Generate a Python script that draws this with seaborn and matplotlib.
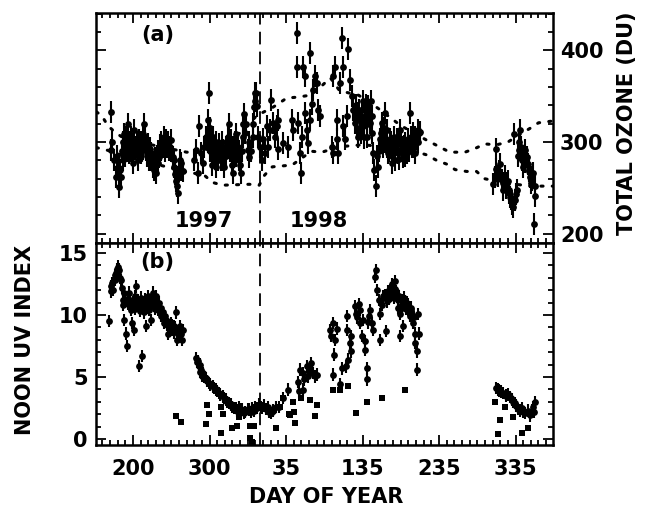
import pandas as pd
import seaborn as sns
import matplotlib.pyplot as plt
from matplotlib.ticker import MultipleLocator

# day axis runs on from 1997 into 1998: 1998 day n is plotted at 365 + n
year_break = 365.5

# --- (a) total ozone, (day, DU) ---
ozone_1997_summer = [
    (171, 333), (171, 291), (173, 300), (175.6, 280), (177.7, 262), (179, 285), (180, 273),
    (182, 251), (183, 270), (184.3, 262), (185, 290), (186.5, 280), (187, 300), (188.6, 309),
    (189, 285), (190.8, 295), (191, 305), (192, 290), (193, 320), (194, 300), (195, 288),
    (196, 300), (197.3, 306), (198, 290), (199.5, 277), (200, 298), (201.7, 313), (202, 293),
    (203.9, 295), (205, 300), (206, 280), (207, 290), (208.2, 302), (209, 295), (210.4, 288),
    (211, 300), (212.6, 309), (213, 293), (214.8, 320), (216, 305), (217, 291), (218, 285),
    (219, 298), (220, 290), (221.3, 280), (222, 293), (223.5, 288), (224, 280), (225.7, 273),
    (227, 270), (228, 278), (229, 283), (230, 266), (231, 285), (232, 277), (233, 290),
    (234.4, 284), (235, 297), (236.6, 291), (237, 300), (238.7, 295), (240, 305), (241, 298),
    (242, 290), (243, 302), (244, 295), (245, 300), (246, 300), (247.5, 291), (248, 295),
    (249.6, 302), (250, 290), (251.8, 284), (253, 280), (254, 273), (255, 265), (256, 258),
    (257, 252), (258.3, 244), (259, 262), (260.5, 269), (261, 280), (262.7, 277), (263, 270),
    (264.9, 269),
]
ozone_1997_autumn = [
    (280, 280), (282.3, 291), (284.5, 266), (286.7, 317), (288.9, 288), (291, 277),
    (293.2, 295), (295.4, 306), (297.6, 324), (298, 300), (299.7, 353), (300, 315), (301, 290),
    (302, 302), (303, 275), (304.1, 284), (305, 305), (306.3, 295), (307, 285), (308.5, 273),
    (309, 300), (310.6, 288), (311, 280), (312.8, 298), (314, 290), (315, 280), (316, 300),
    (317.2, 291), (318, 280), (319.3, 273), (320, 285), (321.5, 295), (322, 285), (323.7, 306),
    (324, 295), (325.9, 320), (327, 290), (328, 302), (329, 275), (330.2, 266), (331, 295),
    (332.4, 288), (333, 300), (334.6, 309), (335, 285), (336.8, 295), (338, 290), (339, 280),
    (340, 275), (341.1, 266), (342, 290), (343.3, 306), (344, 320), (345.5, 331), (346, 310),
    (347.7, 320), (349.8, 291), (351, 300), (352, 284), (354, 290), (356.4, 306), (357, 320),
    (358.6, 338), (359, 345), (359.5, 353), (360.7, 353), (361.7, 339), (364, 306),
]
ozone_1998_spring = [
    (366, 295), (368, 281), (370.4, 303), (372.6, 288), (374.7, 317), (377, 295),
    (379, 313), (381, 346), (383, 321), (385.6, 306), (387.8, 317), (390, 324), (390, 292),
    (396.5, 299), (403, 295), (407.4, 324), (409.6, 313), (414, 419), (414, 382), (416, 321),
    (418.3, 288), (419.6, 266), (420.5, 306), (422.7, 382), (424.9, 372), (424.9, 332),
    (427, 313), (429, 299), (431.4, 397), (431.4, 324), (433.6, 342), (435.7, 357),
    (438, 372), (440, 364), (442.3, 335), (444.5, 328), (459.7, 295), (461.9, 288),
    (461.9, 372), (464, 382), (466.2, 324), (466.2, 303), (468.4, 288), (470.6, 364),
    (472.8, 413), (475, 382), (475, 317), (477, 303), (479.3, 328), (481.5, 401),
    (483.7, 368), (486, 350), (488, 335),
]
ozone_1998_summer = [
    (490, 321), (491, 340), (492.4, 332), (493, 315), (494.6, 306), (495, 335), (496.7, 324),
    (498, 310), (499, 335), (500, 345), (501, 317), (502, 305), (503.3, 328), (504, 340),
    (505.5, 306), (506, 320), (507.6, 339), (509, 335), (510, 321), (511, 345), (512, 328),
    (513, 310), (514, 288), (515.5, 270), (517, 252), (519, 285), (520, 273), (522, 290),
    (523, 303), (524, 310), (525, 321), (526, 305), (527, 295), (528, 315), (529.4, 332),
    (530, 300), (531.6, 313), (532, 295), (533.8, 288), (535, 290), (536, 303), (537, 300),
    (538, 277), (539, 285), (540.3, 295), (541, 305), (542.5, 281), (543, 292), (544.7, 303),
    (546, 298), (547, 288), (548, 282), (549, 313), (550, 300), (551, 295), (552, 290),
    (553.4, 284), (554, 296), (555.6, 299), (556, 285), (557.7, 288), (559, 295), (560, 303),
    (561, 290), (562, 332), (563, 305), (564.3, 295), (565, 300), (566.5, 310), (567, 295),
    (568.6, 288), (569, 305), (570.8, 303), (572, 300), (573, 313), (574, 310), (575, 311),
]
ozone_1998_winter = [
    (671, 254), (673, 262), (675, 292), (675, 271), (677, 263), (679, 268), (680, 276),
    (682, 259), (683, 255), (684, 248), (686.5, 263), (687, 250), (688.5, 255), (690, 258),
    (691, 248), (692, 245), (693, 240), (694, 238), (695, 233), (696, 236), (697, 229),
    (698, 309), (699, 237), (700, 243), (702, 248), (703, 285), (704, 291), (705, 300),
    (706, 313), (707, 295), (708, 284), (709, 280), (710, 273), (711, 285), (712, 291),
    (713, 278), (714.6, 284), (716, 276), (717, 270), (718, 268), (719, 262), (720, 255),
    (721, 259), (722, 262), (723, 266), (724.5, 211), (725.5, 252), (725.5, 241),
]
ozone_err = 12

# climatology envelope (dotted)
clim_hi_day = [152, 159, 167, 176, 190, 230, 270, 285, 300, 318, 340, 362, 383, 401, 415,
               431, 445, 458, 470, 495, 520, 550, 584, 614, 634, 647, 660, 675, 690, 705,
               719, 730, 749]
clim_hi = [333, 329, 318, 311, 303, 296, 289, 289, 292, 299, 310, 329, 338, 348, 349,
           351, 360, 370, 356, 351, 337, 318, 302, 289, 289, 293, 298, 297, 300, 308,
           315, 321, 323]
clim_lo_day = [152, 167, 190, 230, 267, 293, 304, 317, 352, 365, 372, 382, 408, 433, 447,
               470, 500, 530, 560, 584, 597, 610, 621, 636, 649, 660, 690, 720, 749]
clim_lo = [294, 291, 284, 276, 268, 264, 256, 253, 254, 253, 264, 273, 275, 290, 289,
           295, 297, 295, 292, 286, 280, 276, 270, 268, 268, 260, 255, 252, 252]

# --- (b) noon UV index, clear-ish days with error bars (day, UV) ---
uv_1997 = [
    (169, 9.5), (171, 12.3), (171.5, 11.9), (172.5, 12.6), (174, 12.0), (176, 12.8),
    (177, 13.2), (178, 13.4), (179, 13.7), (180, 13.9), (181, 13.3), (182, 13.65), (183, 13.0),
    (184, 12.8), (185, 12.2), (186.5, 11.2), (187, 10.8), (188, 11.8), (188.5, 9.6),
    (190, 11.3), (191, 8.5), (192, 7.5), (193, 11.0), (194, 10.9), (195, 11.8), (196, 11.2),
    (197, 10.4), (198, 10.6), (199, 9.35), (200, 11.0), (201, 8.8), (202, 10.5), (203, 11.5),
    (204, 12.3), (205, 10.8), (206, 11.2), (207, 11.0), (208, 5.9), (209, 10.3), (210, 10.7),
    (211, 11.4), (212, 6.7), (213, 10.5), (214, 11.0), (215, 10.2), (216, 11.3), (217, 9.1),
    (218, 10.6), (219, 11.5), (220, 11.2), (221, 10.4), (222, 10.9), (223, 9.6), (224, 10.7),
    (225, 11.3), (226, 11.8), (227, 11.0), (228, 10.7), (229, 10.5), (230, 11.5), (231, 11.0),
    (232, 10.4), (233, 10.8), (234, 11.0), (235, 10.4), (236, 10.6), (237, 9.9), (238, 10.0),
    (239, 10.2), (240, 9.8), (241, 9.35), (242, 9.9), (243, 9.6), (244, 9.5), (245, 9.2),
    (246, 8.5), (247.5, 9.1), (248, 9.0), (249, 8.8), (250, 9.35), (251, 9.2), (252, 8.8),
    (253, 8.6), (254, 9.1), (255, 9.0), (256, 10.2), (257, 8.7), (258, 8.0), (259, 8.5),
    (260, 8.3), (261, 9.1), (262, 8.7), (263, 8.5), (264, 8.0), (265, 8.8),
    (282, 6.5), (283, 6.2), (285, 6.3), (286, 5.9), (287, 6.0), (288, 5.4), (289, 5.6),
    (290, 5.1), (291, 5.3), (293, 5.0), (295, 4.9), (297, 4.7), (299, 4.5), (301, 4.4),
    (304, 4.25), (306, 4.1), (308, 4.0), (310, 3.85), (312, 3.7), (314, 3.6), (317, 3.44),
    (319, 3.3), (321, 3.2), (323, 3.0), (326, 2.9), (328, 2.8), (330, 2.6), (332, 2.5),
    (334, 2.5), (336, 2.3), (339, 2.6), (341, 2.4), (343, 2.37), (345, 2.1), (347, 2.2),
    (350, 2.4), (352, 2.37), (354, 2.2), (356, 2.5), (358, 2.3), (360, 2.6), (362, 2.5),
    (365, 2.77),
]
uv_1998 = [
    (367, 2.6), (369, 2.5), (371, 2.7), (374, 2.4), (376, 2.6), (378, 2.2), (380, 2.1),
    (383, 2.3), (387, 2.6), (391, 2.6), (395.5, 3.3), (403, 3.98),
    (416, 4.6), (416.5, 3.84), (418, 5.6), (422, 5.3), (422.5, 3.98), (424, 4.8), (427, 5.86),
    (429, 5.05), (431, 5.7), (433, 6.1), (435.7, 5.3), (438, 5.05), (440, 5.2),
    (457.5, 8.8), (459, 8.3), (461, 5.2), (462, 9.35), (462.5, 6.8), (464, 8.0), (466, 8.9),
    (470.6, 4.4), (473, 5.7), (479, 5.86), (479.5, 8.8), (480, 9.9), (481, 6.4), (483, 7.74),
    (485, 7.07), (485.5, 8.3), (490, 10.7), (492, 10.1), (493, 9.8), (495, 10.9),
    (496.7, 10.4), (497, 9.35), (499, 8.3), (501, 9.6), (503, 7.2), (503.5, 7.88),
    (505.5, 5.7), (506, 4.8), (507, 9.4), (508, 9.9), (510, 10.4), (512, 9.35), (514, 8.8),
    (516.5, 13.1), (518, 13.6), (519, 12.0), (521, 11.2), (523, 10.1), (523.5, 8.0),
    (525, 10.8), (527, 11.5), (529, 11.6), (531, 8.7), (531.6, 11.1), (533, 11.9),
    (534, 11.3), (536, 12.0), (537, 11.6), (538, 12.3), (539, 12.5), (540, 11.8), (541, 11.4),
    (542, 12.7), (543, 12.1), (544, 11.9), (545, 11.5), (546, 11.2), (547, 10.6), (548, 11.5),
    (549, 10.1), (549.5, 8.3), (550, 10.7), (551, 11.2), (552, 10.6), (553, 9.1), (554, 11.4),
    (555, 10.8), (556, 11.1), (557, 10.5), (558, 11.0), (559, 10.9), (560, 10.4), (561, 10.2),
    (562, 9.9), (563, 10.4), (564, 10.6), (565, 10.0), (566, 9.35), (567, 9.8), (568.6, 8.5),
    (569, 7.74), (570.8, 7.07), (571, 5.6), (573, 10.1), (574, 8.5),
    (675, 4.1), (677, 4.0), (679, 3.9), (681, 3.83), (684, 3.7), (687, 3.5), (690, 3.6),
    (693, 3.4), (695, 3.2), (697, 3.0), (699, 2.9), (701, 2.7), (703.7, 2.4), (706, 2.3),
    (708, 2.5), (710, 2.2), (713, 2.1), (716, 2.3), (719, 1.9), (721, 2.3), (723, 2.6),
    (724, 2.2), (725, 3.0),
]
uv_err = 0.5
# low values (squares, no error bars)
uv_low = [
    (256, 1.83), (263, 1.4), (295, 1.2), (297, 2.77), (299, 2.0), (315, 2.6), (317, 2.0),
    (315.5, 0.5), (330, 0.9), (336, 1.03), (339, 1.8), (353, 1.03), (358, 1.03), (353.5, 0.1),
    (355, -0.2), (387, 0.9), (392, 2.6), (396.4, 3.3), (404, 2.0), (405, 1.97), (409.5, 3.0),
    (411, 2.2), (411.5, 1.29), (420, 3.3), (431, 3.16), (438, 1.83), (440, 2.77), (462, 3.98),
    (470.6, 3.98), (481, 4.25), (492, 2.1), (505.5, 3.0), (525, 3.3), (555, 3.98),
    (673, 3.0), (677.5, 0.4), (680, 1.5), (686, 2.6), (697, 1.8), (708, 0.46), (716.8, 0.86),
]

x_ticks = [200, 300, 400, 500, 600, 700]
x_tick_labels = ["200", "300", "35", "135", "235", "335"]
ozone_ticks = [200, 300, 400]
uv_ticks = [0, 5, 10, 15]

oz = pd.DataFrame(ozone_1997_summer + ozone_1997_autumn + ozone_1998_spring
                  + ozone_1998_summer + ozone_1998_winter, columns=["day", "du"])
uv = pd.DataFrame(uv_1997 + uv_1998, columns=["day", "uv"])
low = pd.DataFrame(uv_low, columns=["day", "uv"])

sns.set_style("ticks")
plt.rcParams["font.family"] = ["DejaVu Sans"]
plt.rcParams["font.weight"] = "bold"
plt.rcParams["text.color"] = "black"

fig, (ax1, ax2) = plt.subplots(2, 1, sharex=True, figsize=(6.55, 5.09), dpi=100,
                               gridspec_kw={"height_ratios": [230, 202]})
fig.subplots_adjust(left=96 / 655, right=553 / 655, top=1 - 13 / 509,
                    bottom=1 - 445 / 509, hspace=0)

# (a) ozone
ax1.errorbar(oz["day"], oz["du"], yerr=ozone_err, fmt="none", ecolor="black",
             elinewidth=1.5, capsize=0, zorder=2)
sns.scatterplot(data=oz, x="day", y="du", ax=ax1, color="black", s=24,
                linewidth=0, zorder=3)
for d, v in [(clim_hi_day, clim_hi), (clim_lo_day, clim_lo)]:
    sns.lineplot(x=d, y=v, ax=ax1, color="black", linewidth=2.2,
                 linestyle=(0, (0.7, 3.0)), dash_capstyle="round", zorder=1)

# (b) UV index
ax2.errorbar(uv["day"], uv["uv"], yerr=uv_err, fmt="none", ecolor="black",
             elinewidth=1.5, capsize=0, zorder=2)
sns.scatterplot(data=uv, x="day", y="uv", ax=ax2, color="black", s=24,
                linewidth=0, zorder=3)
sns.scatterplot(data=low, x="day", y="uv", ax=ax2, color="black", marker="s", s=16,
                linewidth=0, zorder=3)

for ax in (ax1, ax2):
    ax.axvline(year_break, color="black", lw=1.3, ls=(0, (7, 4)), zorder=1)
    ax.set_xlabel("")
    ax.set_ylabel("")
    ax.tick_params(which="both", direction="in", top=True, bottom=True, left=True,
                   right=True, width=1.3, labelsize=15, colors="black")
    ax.tick_params(which="major", length=7)
    ax.tick_params(which="minor", length=3.5)
    ax.xaxis.set_minor_locator(MultipleLocator(10))
    for s in ax.spines.values():
        s.set_linewidth(1.8)
        s.set_color("black")

ax1.set_xlim(151.6, 749)
ax1.set_ylim(190, 440.7)
ax1.set_yticks(ozone_ticks)
ax1.yaxis.set_minor_locator(MultipleLocator(20))
ax1.tick_params(axis="y", labelleft=False, labelright=True, pad=5)
ax1.tick_params(axis="x", labelbottom=False)

ax2.set_ylim(-0.48, 15.8)
ax2.set_yticks(uv_ticks)
ax2.yaxis.set_minor_locator(MultipleLocator(1))
ax2.tick_params(axis="y", pad=6)
ax2.set_xticks(x_ticks, x_tick_labels)
ax2.tick_params(axis="x", pad=10)

ax1.text(0.10, 0.904, "(a)", transform=ax1.transAxes, fontsize=15, va="center",
         color="black")
ax1.text(0.237, 0.096, "1997", transform=ax1.transAxes, fontsize=15, ha="center",
         va="center", color="black")
ax1.text(0.487, 0.096, "1998", transform=ax1.transAxes, fontsize=15, ha="center",
         va="center", color="black")
ax2.text(0.096, 0.906, "(b)", transform=ax2.transAxes, fontsize=15, va="center",
         color="black")

fig.text(627 / 655, 1 - 123 / 509, "TOTAL OZONE (DU)", rotation=90, fontsize=15,
         ha="center", va="center", color="black")
fig.text(25 / 655, 1 - 340 / 509, "NOON UV INDEX", rotation=90, fontsize=15,
         ha="center", va="center", color="black")
fig.text(326 / 655, 1 - 497 / 509, "DAY OF YEAR", fontsize=15, ha="center",
         va="center", color="black")

fig.savefig("out.png", dpi=100)
